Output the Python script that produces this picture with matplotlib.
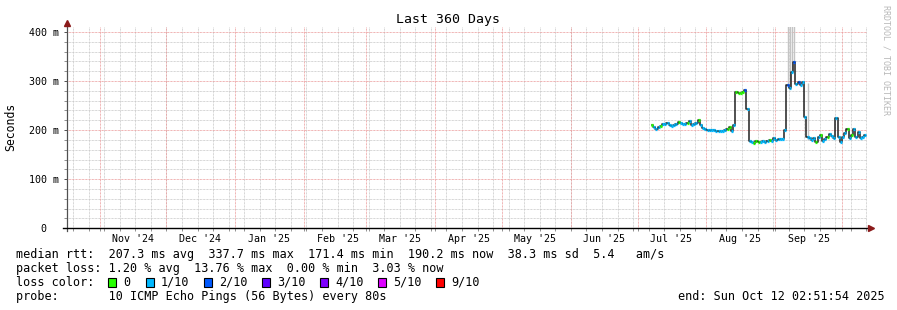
import numpy as np
import pandas as pd
import matplotlib
matplotlib.use("Agg")
import matplotlib.pyplot as plt
import matplotlib.dates as mdates
from matplotlib.patches import Rectangle

plt.rcParams['font.family'] = ['DejaVu Sans Mono']

# time span of the graph
t_start = pd.Timestamp("2024-10-17 02:51:54")
t_end = pd.Timestamp("2025-10-12 02:51:54")

# daily median rtt (ms), starting 2025-07-07
first_day = "2025-07-07 12:00"
rtt_ms = [210, 206, 203, 207, 209, 212, 213, 214, 211, 209,
          210, 212, 217, 214, 213, 212, 215, 218, 210, 213,
          214, 220, 210, 204, 203, 201, 201, 200, 200, 199,
          198, 199, 198, 201, 203, 207, 198, 210, 277, 275,
          275, 278, 281, 242, 178, 176, 174, 177, 175, 176,
          178, 175, 177, 180, 178, 183, 180, 182, 181, 182,
          201, 292, 286, 318, 338, 293, 298, 292, 297, 226,
          186, 183, 179, 183, 176, 186, 190, 178, 182, 186,
          193, 188, 183, 224, 186, 176, 186, 195, 203, 183,
          190, 203, 186, 197, 183, 186, 190]
# pings lost out of 10 for each day
loss = [0, 1, 1, 1, 0, 1, 1, 1, 1, 1,
        1, 1, 0, 1, 1, 1, 0, 1, 1, 1,
        1, 0, 1, 1, 1, 1, 1, 1, 1, 1,
        1, 1, 1, 1, 0, 0, 1, 1, 0, 0,
        0, 0, 2, 1, 1, 1, 0, 0, 0, 1,
        1, 1, 1, 0, 1, 1, 1, 1, 1, 1,
        1, 2, 1, 1, 2, 1, 2, 1, 1, 1,
        1, 1, 1, 1, 0, 1, 0, 1, 1, 0,
        1, 1, 1, 1, 1, 1, 1, 1, 0, 1,
        0, 1, 1, 1, 1, 1, 1]

# smoke (ping spread) where it shows outside the median line
smoke_days = ["2025-09-06 12:00", "2025-09-07 12:00", "2025-09-08 12:00",
              "2025-09-09 12:00", "2025-09-15 12:00"]
smoke_lo = [292, 286, 318, 338, 180]
smoke_hi = [420, 420, 420, 420, 296]

loss_colors = ["#26ff00", "#00b8ff", "#0059ff", "#5e00ff", "#7e00ff", "#dd00ff", "#ff0000"]
loss_labels = ["0", "1/10", "2/10", "3/10", "4/10", "5/10", "9/10"]

W, H = 897, 310
fig = plt.figure(figsize=(W / 100, H / 100), dpi=100)
fig.patch.set_facecolor("white")

x0, x1, y0, y1 = 66.7, 866.7, 27.0, 228.3
ax = fig.add_axes([x0 / W, 1 - y1 / H, (x1 - x0) / W, (y1 - y0) / H])
ax.set_facecolor("white")

xs = mdates.date2num(t_start)
xe = mdates.date2num(t_end)
ax.set_xlim(xs, xe)
ax.set_ylim(0, 0.410)

dot = (0, (0.72, 0.72))
# horizontal grid
for v in np.arange(0.02, 0.41, 0.02):
    if abs(v * 10 - round(v * 10)) < 1e-6:
        continue
    ax.axhline(v, color="#c8c8c8", lw=0.72, ls=dot, zorder=0)
for v in [0.1, 0.2, 0.3, 0.4]:
    ax.axhline(v, color="#eb9a9a", lw=0.72, ls=dot, zorder=0.5)

# vertical grid: weeks (sundays) and month starts
weeks = mdates.WeekdayLocator(byweekday=mdates.SU).tick_values(t_start, t_end)
months = mdates.MonthLocator().tick_values(t_start, t_end)
weeks = [w for w in weeks if xs < w < xe]
months = [m for m in months if xs < m < xe]
for w in weeks:
    ax.axvline(w, color="#c8c8c8", lw=0.72, ls=dot, zorder=0)
for m in months:
    ax.axvline(m, color="#eb9a9a", lw=0.72, ls=dot, zorder=0.5)

# data
days = pd.date_range(first_day, periods=len(rtt_ms), freq="D")
dn = mdates.date2num(days)
rtt = np.array(rtt_ms) / 1000.0

sd = mdates.date2num(pd.to_datetime(smoke_days))
ax.vlines(sd, np.array(smoke_lo) / 1000.0, np.array(smoke_hi) / 1000.0,
          colors="#c4c4c4", lw=1.0, zorder=1)

ax.step(dn, rtt, where="mid", color="#202020", lw=1.1, zorder=2)
ax.hlines(rtt, dn - 0.45, dn + 0.45, colors=[loss_colors[l] for l in loss],
          lw=2.3, zorder=3)
ax.hlines(rtt, dn - 0.15, dn + 0.15, colors="#202020", lw=0.8, zorder=3.5, alpha=0.5)

# axes
for s in ax.spines.values():
    s.set_visible(False)
hpx = y1 - y0
wpx = x1 - x0
ax.plot([0, 0], [-3 / hpx, 1 + 3 / hpx], color="#505050", lw=0.9,
        transform=ax.transAxes, clip_on=False, zorder=5)
ax.plot([-4 / wpx, 1 + 3 / wpx], [0, 0], color="black", lw=1.0,
        transform=ax.transAxes, clip_on=False, zorder=5)
ax.plot([0], [1 + 4 / hpx], marker="^", ms=4.5, color="#8b1a1a", mec="#8b1a1a",
        transform=ax.transAxes, clip_on=False, zorder=6)
ax.plot([1 + 4 / wpx], [0], marker=">", ms=4.5, color="#8b1a1a", mec="#8b1a1a",
        transform=ax.transAxes, clip_on=False, zorder=6)

# y ticks
ax.set_yticks([0, 0.1, 0.2, 0.3, 0.4])
ax.set_yticklabels(["0  ", "100 m", "200 m", "300 m", "400 m"])
ax.set_yticks(np.arange(0.02, 0.41, 0.02), minor=True)
ax.tick_params(axis="y", which="major", length=2, width=0.7, pad=3.4,
               labelsize=7.2, color="#505050")
ax.tick_params(axis="y", which="minor", length=2, width=0.7, color="#909090")

# x ticks: labels at mid month, small marks at weeks and months
mids = [m + 15 for m in mdates.MonthLocator().tick_values(t_start, t_end)]
mids = [m for m in mids if xs < m < xe]
ax.set_xticks(mids)
ax.set_xticklabels([mdates.num2date(m).strftime("%b '%y") for m in mids])
ax.set_xticks(sorted(set(weeks) | set(months)), minor=True)
ax.tick_params(axis="x", which="major", length=0, pad=4.0, labelsize=7.2)
ax.tick_params(axis="x", which="minor", length=2, width=0.7, color="#909090")


def fpos(x, y):
    return x / W, 1 - y / H


fig.text(*fpos(447.7, 19.5), "Last 360 Days", ha="center", va="center", fontsize=9.5)
fig.text(*fpos(11, 127), "Seconds", ha="center", va="center", rotation=90, fontsize=8.3)
fig.text(*fpos(886, 60), "RRDTOOL / TOBI OETIKER", ha="center", va="center",
         rotation=270, fontsize=6, color="#b8b8b8")

fs = 8.5
lx = 15.5
fig.text(*fpos(lx, 254.3),
         "median rtt:  207.3 ms avg  337.7 ms max  171.4 ms min  190.2 ms now  38.3 ms sd  5.4   am/s",
         ha="left", va="center", fontsize=fs)
fig.text(*fpos(lx, 268.3),
         "packet loss: 1.20 % avg  13.76 % max  0.00 % min  3.03 % now",
         ha="left", va="center", fontsize=fs)
fig.text(*fpos(lx, 282.3), "loss color:", ha="left", va="center", fontsize=fs)
box_x = [108.3, 145.7, 203.7, 262.0, 320.0, 377.7, 436.0]
for bx, c, lab in zip(box_x, loss_colors, loss_labels):
    fx, fy = fpos(bx, 287.0)
    fig.patches.append(Rectangle((fx, fy), 8 / W, 9.5 / H, transform=fig.transFigure,
                                 facecolor=c, edgecolor="black", lw=0.8))
    fig.text(*fpos(bx + 15, 282.3), lab, ha="left", va="center", fontsize=fs)
fig.text(*fpos(lx, 296.3), "probe:       10 ICMP Echo Pings (56 Bytes) every 80s",
         ha="left", va="center", fontsize=fs)
fig.text(*fpos(884.5, 296.3), "end: Sun Oct 12 02:51:54 2025",
         ha="right", va="center", fontsize=fs)

fig.savefig("out.png", dpi=100, facecolor="white")
